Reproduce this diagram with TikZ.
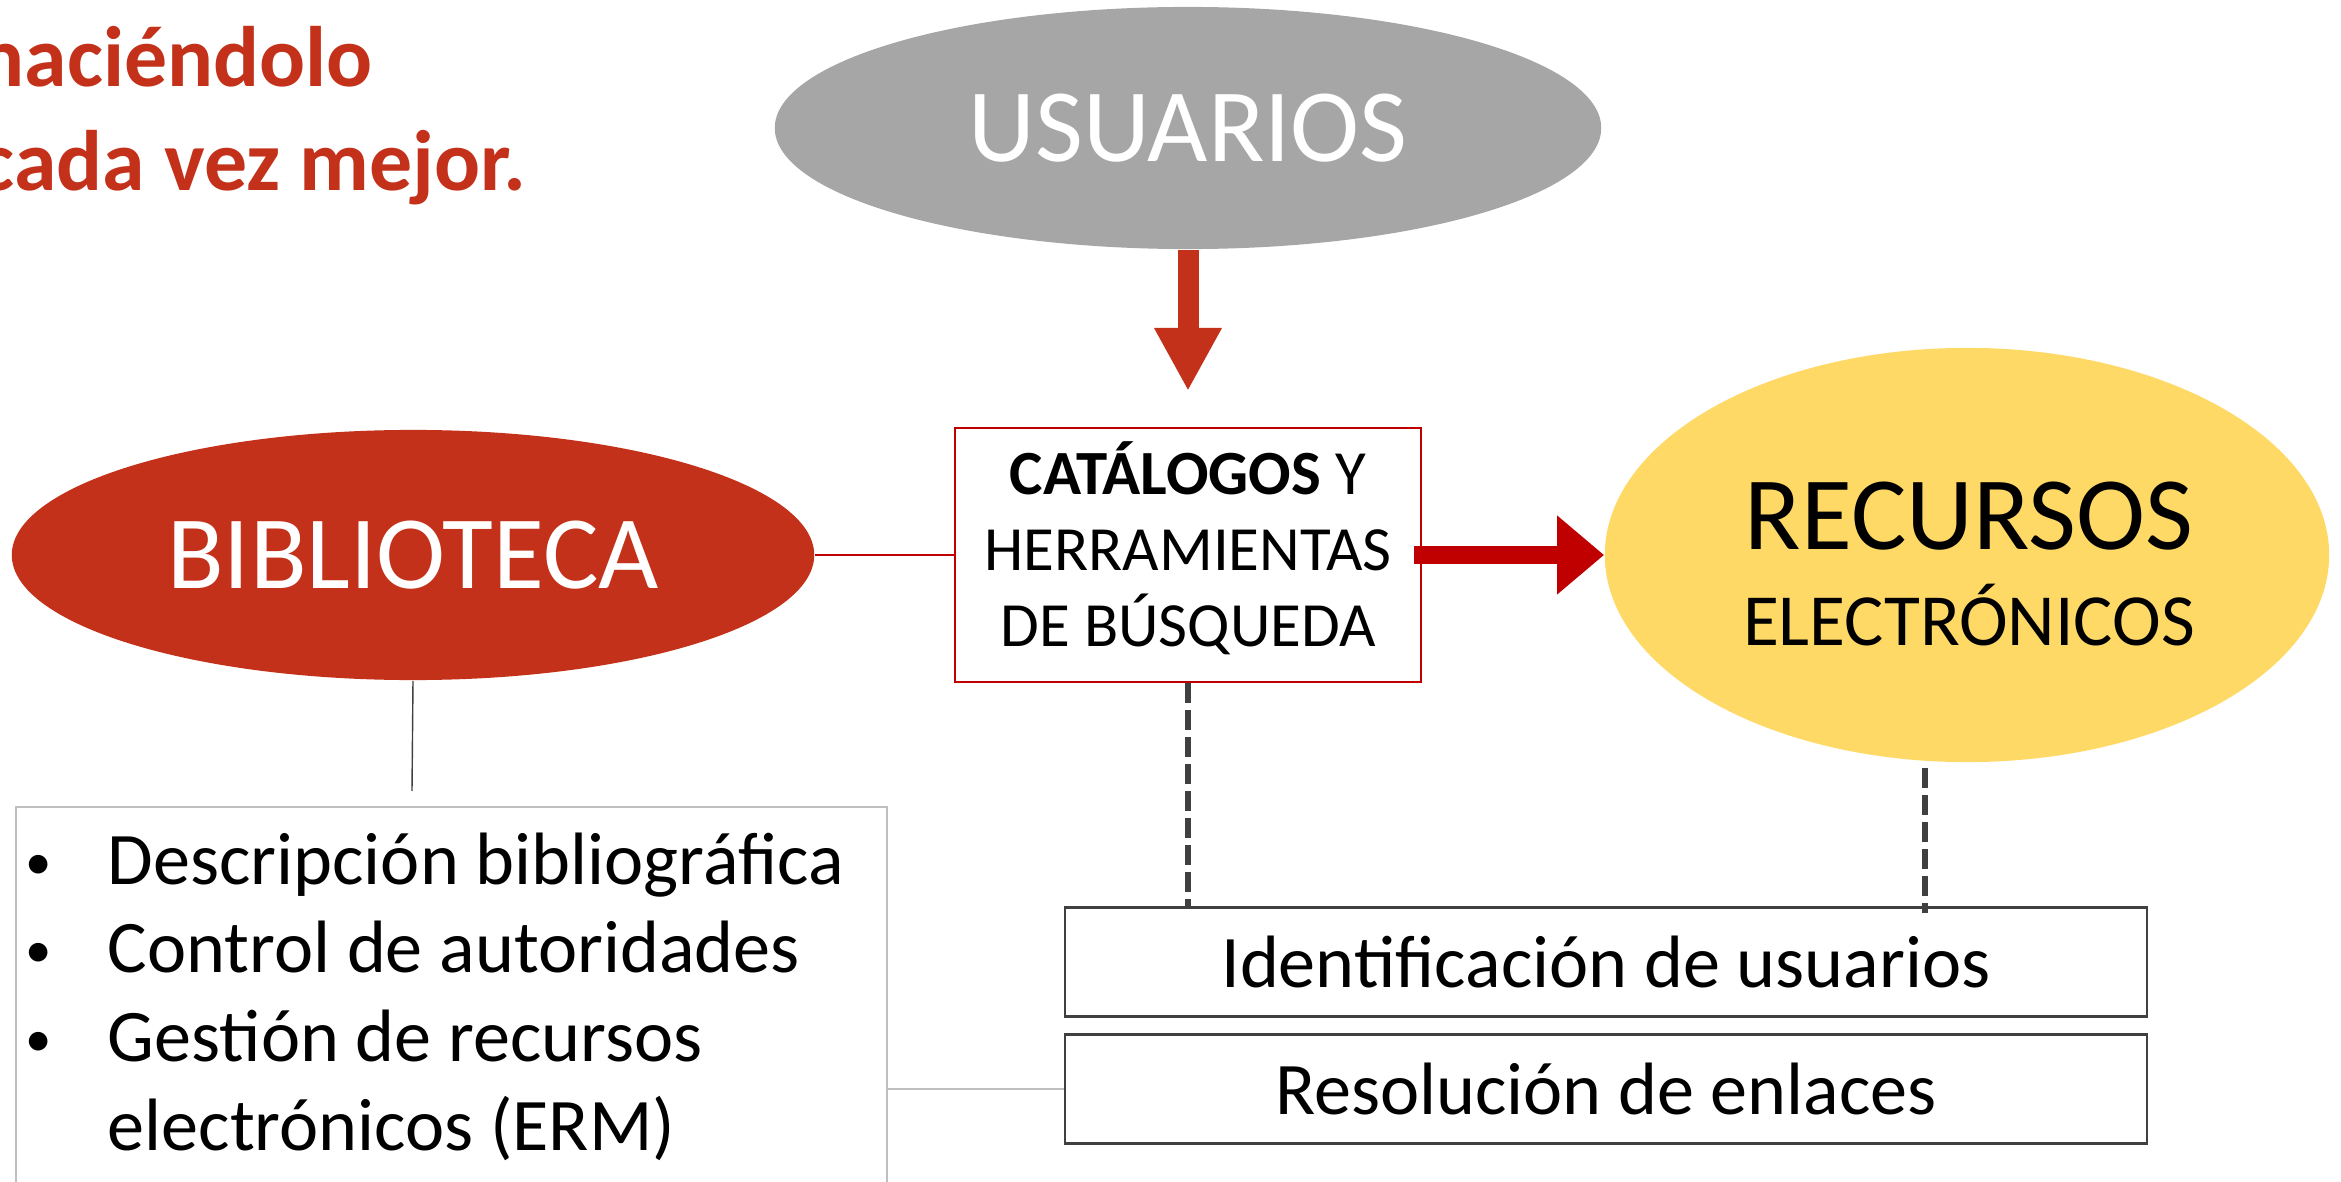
\documentclass[tikz,border=0pt]{standalone}
\usepackage{fontspec}
\setmainfont{Carlito}
\usetikzlibrary{shapes.geometric,arrows.meta}
\definecolor{usrgray}{HTML}{A6A6A6}
\definecolor{bibred}{HTML}{C4311A}
\definecolor{recyellow}{HTML}{FFD966}
\definecolor{catred}{HTML}{C00000}
\definecolor{darkline}{HTML}{404040}
\definecolor{lightline}{HTML}{BFBFBF}
\newcommand{\fsz}[2]{\fontsize{#1}{#2}\selectfont}
\newcommand{\libbullet}{\hspace*{-0.06cm}\raisebox{0.05cm}{\fsz{15}{18}•}}
\begin{document}
\begin{tikzpicture}[x=0.01cm,y=-0.01cm,
    blob/.style={ellipse,inner sep=0pt},
    taskbox/.style={draw=darkline,line width=0.6pt,minimum width=10.82cm,minimum height=1.09cm,inner sep=0pt,font=\fsz{21.1}{25.3}},
    dashline/.style={darkline,line width=1.5pt,dash pattern=on 0.2cm off 0.07cm}]
        \useasboundingbox (0,0) rectangle (2341,1182);
        \clip (0,0) rectangle (2341,1182);
        %% Title
        \node[anchor=base west,inner sep=0pt,text=bibred,font=\fsz{24.4}{29.3}\bfseries] (title) at (-22,87) {\begin{tabular}[t]{@{}l@{}}haciéndolo\\cada vez mejor.\end{tabular}};
        %% Ellipses
        \node[blob,fill=usrgray,minimum width=8.26cm,minimum height=2.42cm,text=white,font=\fsz{29.6}{35}] (usr) at (1188,128) {USUARIOS};
        \node[blob,fill=bibred,minimum width=8.02cm,minimum height=2.50cm,text=white,font=\fsz{29.6}{35}] (bib) at (413,555) {BIBLIOTECA};
        \node[blob,fill=recyellow,minimum width=7.24cm,minimum height=4.14cm] (rec) at (1967,555) {};
        \node[inner sep=0pt,font=\fsz{20.9}{27.3}] (rectext) at (1969,578) {\begin{tabular}{@{}c@{}}{\fsz{29.6}{35}RECURSOS}\\ELECTRÓNICOS\end{tabular}};
        %% Boxes
        \node[draw=catred,line width=0.6pt,minimum width=4.66cm,minimum height=2.53cm,inner sep=0pt,font=\fsz{17.9}{21.6}] (cat) at (1188,555) {\begin{tabular}{@{}c@{}}\textbf{CATÁLOGOS} Y\\HERRAMIENTAS\\DE BÚSQUEDA\end{tabular}};
        \node[taskbox] (ident) at (1606,962) {Identificación de usuarios};
        \node[taskbox] (resol) at (1606,1089) {Resolución de enlaces};
        \node[draw=lightline,line width=0.6pt,anchor=north west,minimum width=8.70cm,minimum height=4.2cm,inner sep=0pt] (libbox) at (15,806) {};
        \node[anchor=base west,inner sep=0pt,font=\fsz{21.1}{25.3}] (libtext) at (31,884) {\begin{tabular}[t]{@{}p{0.76cm}@{}l@{}}\libbullet&Descripción bibliográfica\\\libbullet&Control de autoridades\\\libbullet&Gestión de recursos\\&electrónicos (ERM)\end{tabular}};
        %% Connectors
        \draw[catred,line width=0.6pt] (bib.east) -- (cat.west);
        \coordinate (libtop) at (412,791);
        \draw[darkline,line width=0.4pt] (bib.south) -- (libtop);
        \draw[lightline,line width=0.6pt] (libbox.east |- resol.west) -- (resol.west);
        \coordinate (usrtip) at (1188,391);
        \draw[bibred,line width=0.21cm,-{Triangle[length=0.63cm,width=0.63cm]}] (usr.south) -- (usrtip);
        \draw[catred,line width=0.17cm,-{Triangle[length=0.47cm,width=0.76cm]}] ([xshift=-0.08cm]cat.east) -- (rec.west);
        \draw[dashline] (cat.south) -- (cat.south |- ident.north);
        \coordinate (recfoot) at (1925,768);
        \draw[dashline] (recfoot) -- ([yshift=-0.07cm]recfoot |- ident.north);
    \end{tikzpicture}
\end{document}
